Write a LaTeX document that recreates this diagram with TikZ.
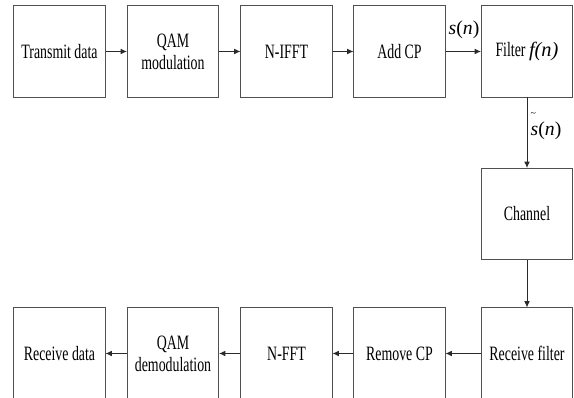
\documentclass[tikz,border=0pt]{standalone}
\usepackage{fontspec}
\setmainfont[FakeStretch=0.68]{Liberation Serif}
\newfontfamily\lblfont{Liberation Serif}
\usetikzlibrary{arrows.meta,positioning}
\definecolor{boxgray}{HTML}{505050}
\definecolor{wire}{HTML}{2A2A2A}

\begin{document}
\begin{tikzpicture}[x=0.025cm,y=-0.025cm,
    block/.style={draw=boxgray, line width=0.7pt, minimum width=2.275cm, minimum height=2.275cm,
        align=center, inner sep=1pt, font=\fontsize{14.5}{15.6}\selectfont},
    sig/.style={-{Latex[length=4.5pt,width=4pt]}, wire, line width=0.6pt},
    lbl/.style={font=\lblfont\fontsize{14}{15}\selectfont, inner sep=0pt}]
    \clip (0,0) rectangle (574,398);

    % Transmitter chain
    \node[block] (tx)   at (59.5,51.5)  {Transmit data};
    \node[block] (qam)  at (173,51.5)   {QAM\\modulation};
    \node[block] (ifft) at (286.5,51.5) {N-IFFT};
    \node[block] (cp)   at (399.5,51.5) {Add CP};
    \node[block] (flt)  at (527,51.5)   {Filter {\lblfont\itshape f(n)}};

    % Channel
    \node[block] (ch)   at (527,214)    {Channel};

    % Receiver chain
    \node[block] (rflt) at (527,353.5)  {Receive filter};
    \node[block] (rcp)  at (399.5,353.5){Remove CP};
    \node[block] (fft)  at (286.5,353.5){N-FFT};
    \node[block] (dem)  at (173,353.5)  {QAM\\demodulation};
    \node[block] (rx)   at (59.5,353.5) {Receive data};

    % Connectors
    \foreach \a/\b in {tx/qam,qam/ifft,ifft/cp,cp/flt,flt/ch,ch/rflt,rflt/rcp,rcp/fft,fft/dem,dem/rx} {
        \draw[sig] (\a) -- (\b);
    }

    % Signal labels
    \node[lbl] (sn)  at (464,30)  {\textit{s}(\textit{n})};
    \node[lbl] (tsn) at (546,126) {\rlap{\raisebox{2.1ex}{\fontsize{7}{7}\selectfont\textasciitilde}}\textit{s}(\textit{n})};
\end{tikzpicture}
\end{document}
